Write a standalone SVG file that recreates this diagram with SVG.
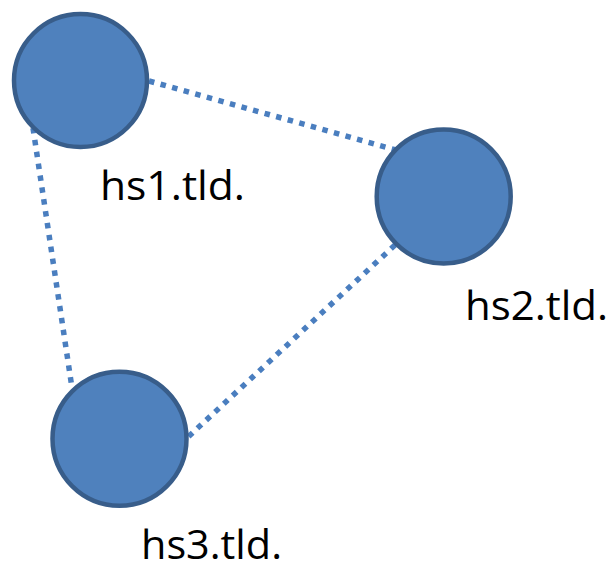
<svg xmlns="http://www.w3.org/2000/svg" width="611" height="571" viewBox="0 0 611 571">
<style>
.node{fill:#4F81BD;stroke:#385D8A;stroke-width:4.5}
.link{fill:none;stroke:#4A7EBF;stroke-width:5.5;stroke-dasharray:5.5 6.5}
.lbl{font-family:"Open Sans","Liberation Sans",sans-serif;font-size:41px;fill:#000}
</style>
<rect width="611" height="571" fill="#fff"/>
<g id="connectors">
<line class="link" x1="149" y1="81" x2="396" y2="150"/>
<line class="link" x1="33" y1="128" x2="72" y2="388"/>
<line class="link" x1="395" y1="245" x2="188" y2="437"/>
</g>
<g id="hs1"><circle class="node" cx="80.5" cy="80.5" r="66.5"/><text class="lbl" x="100" y="200" textLength="145" lengthAdjust="spacingAndGlyphs">hs1.tld.</text></g>
<g id="hs2"><circle class="node" cx="443.7" cy="196.5" r="67"/><text class="lbl" x="465" y="320" textLength="143" lengthAdjust="spacingAndGlyphs">hs2.tld.</text></g>
<g id="hs3"><circle class="node" cx="119.5" cy="438.8" r="67"/><text class="lbl" x="141" y="559" textLength="141" lengthAdjust="spacingAndGlyphs">hs3.tld.</text></g>
</svg>
